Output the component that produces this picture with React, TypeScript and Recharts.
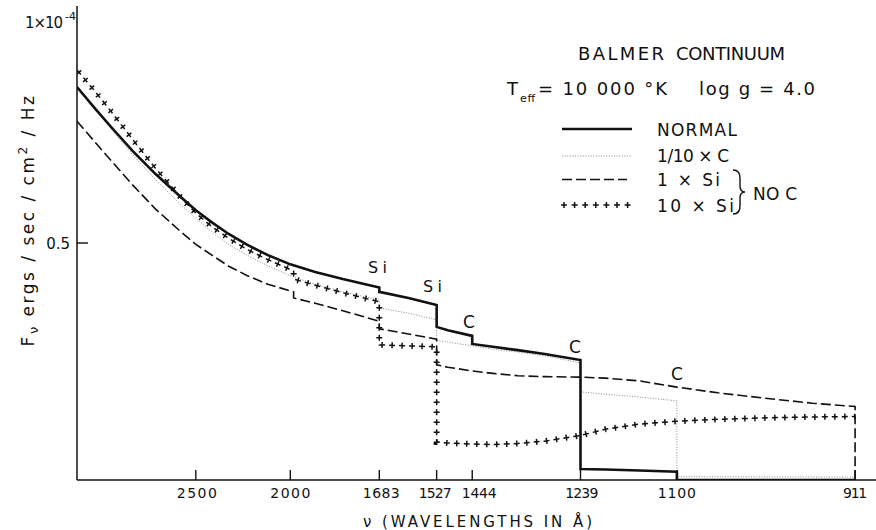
import React from 'react';
import { LineChart, Line, XAxis, YAxis } from 'recharts';

// ---------- data (wavelengths in Å, flux in units of 1e-4 erg/s/cm²/Hz) ----------
const tickWavelengths = [2500, 2000, 1683, 1527, 1444, 1239, 1100, 911];
const tickLabels = ['2500', '2000', '1683', '1527', '1444', '1239', '1100', '911'];
const balmerLimit = 3646;
const axisEndWavelength = 893;
const yTicks = [0.5, 1];
const rightTicks = [0.3];

const normalWl = [3646, 3400, 3200, 3000, 2800, 2600, 2500, 2400, 2300, 2200, 2100, 2000, 1900, 1800, 1683, 1683, 1600, 1527, 1527, 1500, 1444, 1444, 1400, 1350, 1300, 1239, 1239, 1200, 1150, 1100, 1100, 911];
const normalFlux = [0.829, 0.782, 0.740, 0.694, 0.646, 0.596, 0.569, 0.544, 0.519, 0.496, 0.4745, 0.455, 0.439, 0.424, 0.406, 0.397, 0.384, 0.369, 0.323, 0.316, 0.304, 0.287, 0.281, 0.274, 0.266, 0.253, 0.023, 0.022, 0.020, 0.0175, 0, 0];

const tenthCWl = [3646, 3400, 3200, 3000, 2800, 2600, 2500, 2400, 2300, 2200, 2100, 2000, 1900, 1800, 1683, 1683, 1600, 1527, 1527, 1500, 1444, 1400, 1350, 1300, 1239, 1239, 1200, 1150, 1100, 1100, 911];
const tenthCFlux = [0.829, 0.781, 0.735, 0.686, 0.634, 0.580, 0.552, 0.524, 0.497, 0.474, 0.452, 0.431, 0.413, 0.397, 0.380, 0.363, 0.352, 0.338, 0.295, 0.291, 0.283, 0.276, 0.270, 0.262, 0.247, 0.186, 0.181, 0.175, 0.167, 0.007, 0.006];

const oneSiWl = [3646, 3400, 3200, 3000, 2800, 2600, 2500, 2400, 2300, 2200, 2100, 2000, 1986, 1986, 1900, 1800, 1683, 1683, 1600, 1527, 1527, 1500, 1444, 1400, 1350, 1300, 1239, 1200, 1150, 1100, 1050, 1000, 950, 911, 911];
const oneSiFlux = [0.757, 0.711, 0.669, 0.622, 0.572, 0.523, 0.497, 0.475, 0.451, 0.431, 0.413, 0.399, 0.397, 0.384, 0.373, 0.357, 0.335, 0.319, 0.308, 0.297, 0.243, 0.238, 0.230, 0.225, 0.220, 0.218, 0.217, 0.215, 0.209, 0.196, 0.184, 0.173, 0.162, 0.155, 0];

const tenSiWl = [3646, 3400, 3200, 3000, 2800, 2600, 2500, 2400, 2300, 2200, 2100, 2000, 1986, 1986, 1900, 1800, 1683, 1683, 1600, 1527, 1527, 1500, 1444, 1400, 1350, 1300, 1239, 1200, 1150, 1100, 1050, 1000, 950, 911];
const tenSiFlux = [0.865, 0.818, 0.772, 0.718, 0.658, 0.595, 0.563, 0.535, 0.510, 0.486, 0.465, 0.444, 0.441, 0.424, 0.411, 0.395, 0.376, 0.285, 0.283, 0.281, 0.080, 0.078, 0.076, 0.075, 0.077, 0.082, 0.094, 0.107, 0.118, 0.124, 0.128, 0.131, 0.133, 0.134];

// ---------- helpers ----------
const toNu = (wl: number) => 1e4 / wl;
const build = (wl: number[], flux: number[]) => wl.map((w, i) => ({ nu: toNu(w), f: flux[i] }));

const normalData = build(normalWl, normalFlux);
const tenthCData = build(tenthCWl, tenthCFlux);
const oneSiData = build(oneSiWl, oneSiFlux);
const tenSiData = build(tenSiWl, tenSiFlux);
const tickNus = tickWavelengths.map(toNu);
const xDomain: [number, number] = [toNu(balmerLimit), toNu(axisEndWavelength)];

const INK = '#111';
const FONT = '"DejaVu Sans", "Liberation Sans", sans-serif';

// label styling (width / horizontal nudge of each tick label as printed)
const tickLabelStyle: Record<string, { w: number; dx: number }> = {
  '2500': { w: 40, dx: 1 },
  '2000': { w: 40, dx: 0 },
  '1683': { w: 37, dx: 2 },
  '1527': { w: 33, dx: -1.5 },
  '1444': { w: 35, dx: 7 },
  '1239': { w: 33, dx: 1.3 },
  '1100': { w: 38, dx: 0 },
  '911': { w: 24, dx: 0 },
};

function labelFor(v: number) {
  const i = tickNus.findIndex((t) => Math.abs(t - v) < 1e-6);
  return i >= 0 ? tickLabels[i] : '';
}

function BottomTick(props: any) {
  const { x, y, payload } = props;
  const label = labelFor(payload.value);
  const st = tickLabelStyle[label] || { w: 30, dx: 0 };
  return (
    <g>
      <line x1={x} x2={x} y1={y} y2={y - 10} stroke={INK} strokeWidth={1.4} />
      <text
        x={x + st.dx - st.w / 2}
        y={y + 18}
        fontSize={14}
        textLength={st.w}
        lengthAdjust="spacing"
        fontFamily={FONT}
        fill={INK}
      >
        {label}
      </text>
    </g>
  );
}

function TopTick(props: any) {
  const { x, y } = props;
  return <line x1={x} x2={x} y1={y} y2={y + 10} stroke={INK} strokeWidth={1.4} />;
}

function LeftTick(props: any) {
  const { x, y, payload } = props;
  if (payload.value === 1) {
    return (
      <g fontFamily={FONT} fill={INK}>
        <text x={25} y={y + 22} fontSize={15} textLength={38} lengthAdjust="spacing">1×10</text>
        <text x={x - 12} y={y + 14} fontSize={11}>-4</text>
      </g>
    );
  }
  return (
    <g>
      <line x1={x} x2={x + 11} y1={y} y2={y} stroke={INK} strokeWidth={1.4} />
      <text x={x - 7} y={y + 5.5} textAnchor="end" fontSize={15} fontFamily={FONT} fill={INK}>
        {String(payload.value)}
      </text>
    </g>
  );
}

function RightTick(props: any) {
  const { x, y } = props;
  return <line x1={x - 7} x2={x} y1={y} y2={y} stroke={INK} strokeWidth={1.4} />;
}

const legendCrosses = [0, 1, 2, 3, 4, 5, 6];

export default function App() {
  return (
    <div style={{ position: 'absolute', left: 0, top: 0, width: 876, height: 530, background: '#fff', overflow: 'hidden' }}>
      <LineChart width={876} height={530} margin={{ top: 6, right: 0, left: 0, bottom: 0 }}>
        <XAxis
          dataKey="nu"
          type="number"
          domain={xDomain}
          allowDataOverflow
          ticks={tickNus}
          interval={0}
          height={50}
          tickSize={0}
          tickMargin={0}
          tickLine={false}
          axisLine={{ stroke: INK, strokeWidth: 1.5 }}
          tick={<BottomTick />}
        />
        <XAxis
          xAxisId="top"
          orientation="top"
          dataKey="nu"
          type="number"
          domain={xDomain}
          allowDataOverflow
          ticks={tickNus}
          interval={0}
          height={0}
          tickSize={0}
          tickMargin={0}
          tickLine={false}
          axisLine={{ stroke: INK, strokeWidth: 1.5 }}
          tick={<TopTick />}
        />
        <YAxis
          type="number"
          domain={[0, 1]}
          allowDataOverflow
          ticks={yTicks}
          interval={0}
          width={77}
          tickSize={0}
          tickMargin={0}
          tickLine={false}
          axisLine={{ stroke: INK, strokeWidth: 1.5 }}
          tick={<LeftTick />}
        />
        <YAxis
          yAxisId="right"
          orientation="right"
          type="number"
          domain={[0, 1]}
          ticks={rightTicks}
          interval={0}
          width={0}
          tickSize={0}
          tickMargin={0}
          tickLine={false}
          axisLine={false}
          tick={<RightTick />}
        />
        <Line data={tenthCData} dataKey="f" type="linear" stroke="#888" strokeWidth={1} strokeDasharray="1 1.6" dot={false} activeDot={false} isAnimationActive={false} />
        <Line data={oneSiData} dataKey="f" type="linear" stroke={INK} strokeWidth={1.6} strokeDasharray="10 4" dot={false} activeDot={false} isAnimationActive={false} />
        <Line data={tenSiData} dataKey="f" type="linear" stroke={INK} strokeWidth={1.5} strokeDasharray="6 4" dot={false} activeDot={false} isAnimationActive={false} />
        <Line data={tenSiData} dataKey="f" type="linear" stroke={INK} strokeWidth={6} strokeDasharray="0 2.3 1.5 6.2" dot={false} activeDot={false} isAnimationActive={false} />
        <Line data={normalData} dataKey="f" type="linear" stroke={INK} strokeWidth={2.6} dot={false} activeDot={false} isAnimationActive={false} />
      </LineChart>

      <svg width={876} height={530} style={{ position: 'absolute', left: 0, top: 0, pointerEvents: 'none' }} fontFamily={FONT} fill={INK}>
        {/* axis titles */}
        <text x={363} y={527} fontSize={15} textLength={229} lengthAdjust="spacing">ν (WAVELENGTHS IN Å)</text>
        <text transform="translate(34,220) rotate(-90)" textAnchor="middle" fontSize={17} letterSpacing={2.5}>
          F<tspan dy={4} fontSize={13}>ν</tspan>
          <tspan dy={-4}>{'  ergs / sec / cm'}</tspan>
          <tspan dy={-7} fontSize={12}>2</tspan>
          <tspan dy={7}>{' / Hz'}</tspan>
        </text>

        {/* title block */}
        <text x={578} y={60} fontSize={18} textLength={86} lengthAdjust="spacing">BALMER</text>
        <text x={676} y={60} fontSize={18} textLength={109} lengthAdjust="spacing">CONTINUUM</text>
        <text x={507} y={95} fontSize={18}>T</text>
        <text x={520} y={102} fontSize={11} textLength={15} lengthAdjust="spacing">eff</text>
        <text x={538} y={95} fontSize={18} textLength={129} lengthAdjust="spacing">= 10 000 °K</text>
        <text x={699} y={95} fontSize={18} textLength={116} lengthAdjust="spacing">log g = 4.0</text>

        {/* legend */}
        <line x1={562} x2={632} y1={129} y2={129} stroke={INK} strokeWidth={2.6} />
        <line x1={562} x2={632} y1={156} y2={156} stroke="#888" strokeWidth={1} strokeDasharray="1 1.6" />
        <line x1={562} x2={627} y1={179.5} y2={179.5} stroke={INK} strokeWidth={1.6} strokeDasharray="10 4" />
        {legendCrosses.map((k) => {
          const cx = 564 + k * 10.6;
          return (
            <g key={k} stroke={INK} strokeWidth={1.5}>
              <line x1={cx - 3} x2={cx + 3} y1={205} y2={205} />
              <line x1={cx} x2={cx} y1={202} y2={208} />
            </g>
          );
        })}
        <text x={657} y={136} fontSize={17} textLength={80} lengthAdjust="spacing">NORMAL</text>
        <text x={657} y={162} fontSize={17} textLength={72} lengthAdjust="spacing">1/10 × C</text>
        <text x={657} y={186} fontSize={17} textLength={63} lengthAdjust="spacing">1 × Si</text>
        <text x={657} y={212} fontSize={17} textLength={77} lengthAdjust="spacing">10 × Si</text>
        <path d="M 733 170 Q 740 170 740 178 L 740 186 Q 740 192 745 192 Q 740 192 740 198 L 740 206 Q 740 214 733 214" fill="none" stroke={INK} strokeWidth={1.4} />
        <text x={753} y={200} fontSize={17} textLength={44} lengthAdjust="spacing">NO C</text>

        {/* edge annotations */}
        <text x={368} y={273} fontSize={16} textLength={19} lengthAdjust="spacing">Si</text>
        <text x={423} y={292} fontSize={16} textLength={19} lengthAdjust="spacing">Si</text>
        <text x={463} y={328} fontSize={17}>C</text>
        <text x={569} y={353} fontSize={17}>C</text>
        <text x={671} y={380} fontSize={17}>C</text>
      </svg>
    </div>
  );
}
